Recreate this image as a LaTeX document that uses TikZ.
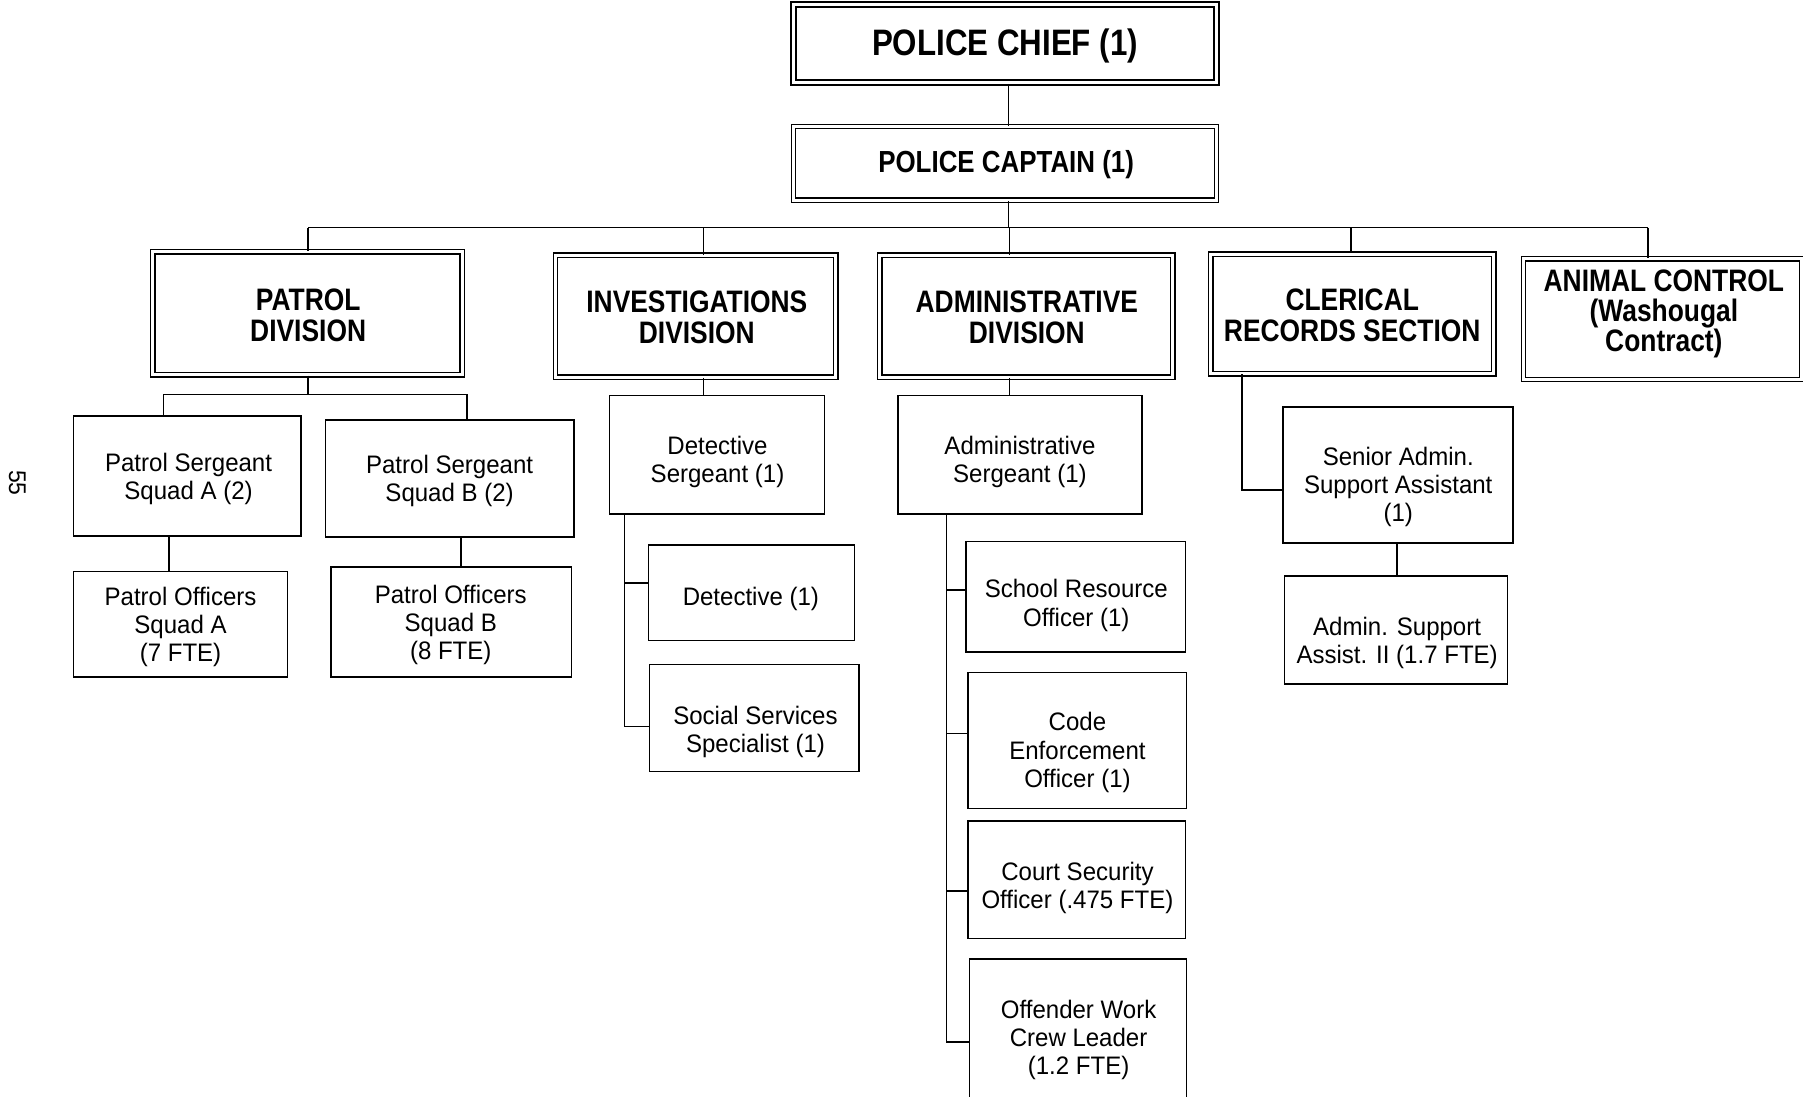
\documentclass[tikz,border=0pt]{standalone}
\usepackage{fontspec}
\setmainfont{Liberation Sans}
\newfontfamily\regfont[FakeStretch=0.95]{Liberation Sans}
\newfontfamily\hdfont[FakeStretch=0.85]{Liberation Sans}
\usetikzlibrary{fit}

\tikzset{
  plainbox/.style={draw, line width=1.4pt, inner sep=0pt},
  dblbox/.style={draw, line width=1.2pt, double, double distance=2.6pt, inner sep=0pt},
  chiefbox/.style={draw, line width=1.8pt, double, double distance=2.4pt, inner sep=0pt},
  link/.style={line width=1.3pt},
  txt/.style={align=center, inner sep=0pt, yshift=-2.5pt, font=\regfont\fontsize{22}{24.5}\selectfont},
  hd/.style={align=center, inner sep=0pt, font=\hdfont\bfseries\fontsize{27}{27}\selectfont},
  hdtop/.style={align=center, inner sep=0pt, font=\hdfont\bfseries\fontsize{32}{32}\selectfont},
  hdcap/.style={align=center, inner sep=0pt, font=\hdfont\bfseries\fontsize{26.5}{26.5}\selectfont},
}

\begin{document}
\begin{tikzpicture}[x=1pt, y=-1pt]
\useasboundingbox (0,0) rectangle (1568,954);
\fill[white] (0,0) rectangle (1568,954);
\clip (0,0) rectangle (1568,954);

% ---- command levels ----
\node[chiefbox, fit={(690,4) (1058,72)}] (chief) {};
\node[hdtop] (chief-t) at (874,40) {POLICE CHIEF (1)};
\node[dblbox, fit={(690,110) (1058,174)}] (captain) {};
\node[hdcap] (captain-t) at (875,143) {POLICE CAPTAIN (1)};

% ---- divisions ----
\node[dblbox, fit={(133,219) (402,326)}] (patrol) {};
\node[hd] (patrol-t) at (268,274) {PATROL\\DIVISION};
\node[dblbox, fit={(483,222) (727,328)}] (invest) {};
\node[hd] (invest-t) at (606,276) {INVESTIGATIONS\\DIVISION};
\node[dblbox, fit={(765,222) (1020,328)}] (admin) {};
\node[hd] (admin-t) at (893,276) {ADMINISTRATIVE\\DIVISION};
\node[dblbox, fit={(1053,221) (1299,325)}] (clerical) {};
\node[hd] (clerical-t) at (1176,274) {CLERICAL\\RECORDS SECTION};
\node[dblbox, fit={(1325,225) (1567,330)}] (animal) {};
\node[hd, font=\hdfont\bfseries\fontsize{27}{26}\selectfont] (animal-t) at (1447,273) {ANIMAL CONTROL\\(Washougal\\Contract)};

% ---- patrol units ----
\node[plainbox, fit={(64,362) (262,466)}] (psA) {};
\node[txt] (psA-t) at (164,414) {Patrol Sergeant\\Squad A (2)};
\node[plainbox, fit={(283,365) (499,467)}] (psB) {};
\node[txt] (psB-t) at (391,416) {Patrol Sergeant\\Squad B (2)};
\node[plainbox, fit={(64,497) (250,589)}] (poA) {};
\node[txt] (poA-t) at (157,543) {Patrol Officers\\Squad A\\(7 FTE)};
\node[plainbox, fit={(288,493) (497,589)}] (poB) {};
\node[txt] (poB-t) at (392,541) {Patrol Officers\\Squad B\\(8 FTE)};

% ---- investigations units ----
\node[plainbox, fit={(530,344) (717,447)}] (dsgt) {};
\node[txt] (dsgt-t) at (624,399) {Detective\\Sergeant (1)};
\node[plainbox, fit={(564,474) (743,557)}] (det) {};
\node[txt] (det-t) at (653,518) {Detective (1)};
\node[plainbox, fit={(565,578) (747,671)}] (ssp) {};
\node[txt] (ssp-t) at (657,634) {Social Services\\Specialist (1)};

% ---- administrative units ----
\node[plainbox, fit={(781,344) (993,447)}] (asgt) {};
\node[txt] (asgt-t) at (887,399) {Administrative\\Sergeant (1)};
\node[plainbox, fit={(840,471) (1031,567)}] (sro) {};
\node[txt] (sro-t) at (936,524) {School Resource\\Officer (1)};
\node[plainbox, fit={(842,585) (1032,703)}] (ceo) {};
\node[txt] (ceo-t) at (937,652) {Code\\Enforcement\\Officer (1)};
\node[plainbox, fit={(842,714) (1031,816)}] (cso) {};
\node[txt] (cso-t) at (937,770) {Court Security\\Officer (.475 FTE)};
\node[plainbox, fit={(843,834) (1032,958)}] (owc) {};
\node[txt] (owc-t) at (938,902) {Offender Work\\Crew Leader\\(1.2 FTE)};

% ---- clerical units ----
\node[plainbox, fit={(1116,354) (1316,472)}] (senior) {};
\node[txt] (senior-t) at (1216,421) {Senior Admin.\\Support Assistant\\(1)};
\node[plainbox, fit={(1117,501) (1311,595)}] (asst) {};
\node[txt] (asst-t) at (1215,557) {Admin. Support\\Assist. II (1.7 FTE)};

% page number
\node[font=\regfont\fontsize{21}{21}\selectfont, rotate=-90] (pg) at (15,420) {55};

% ---- connector points ----
\coordinate (trunk) at (877,198);
\coordinate (dPat) at (268,198);
\coordinate (dInv) at (612,198);
\coordinate (dAdm) at (878,198);
\coordinate (dCle) at (1175,198);
\coordinate (dAni) at (1433,198);
\coordinate (pJ) at (268,343);
\coordinate (pA) at (142,343);
\coordinate (pB) at (406,343);
\coordinate (xoA) at (147,0);
\coordinate (xoB) at (401,0);
\coordinate (xInv) at (612,0);
\coordinate (xDet) at (543,0);
\coordinate (yDet) at (0,507);
\coordinate (ySsp) at (0,632);
\coordinate (xAdm) at (878,0);
\coordinate (xAs) at (823,0);
\coordinate (ySro) at (0,513);
\coordinate (yCeo) at (0,638);
\coordinate (yCso) at (0,775);
\coordinate (yOwc) at (0,906);
\coordinate (cJ) at (1080,426);
\coordinate (xSn) at (1215,0);

% ---- connectors ----
\draw[link] (chief.south -| trunk) -- (captain.north -| trunk);
\draw[link] (captain.south -| trunk) -- (trunk);
\draw[link] (dPat) -- (dAni);
\draw[link] (dPat) -- (dPat |- patrol.north);
\draw[link] (dInv) -- (dInv |- invest.north);
\draw[link] (dAdm) -- (dAdm |- admin.north);
\draw[link] (dCle) -- (dCle |- clerical.north);
\draw[link] (dAni) -- (dAni |- animal.north);

\draw[link] (pJ |- patrol.south) -- (pJ);
\draw[link] (pA |- psA.north) -- (pA) -- (pB) -- (pB |- psB.north);
\draw[link] (xoA |- psA.south) -- (xoA |- poA.north);
\draw[link] (xoB |- psB.south) -- (xoB |- poB.north);

\draw[link] (xInv |- invest.south) -- (xInv |- dsgt.north);
\draw[link] (xDet |- dsgt.south) -- (xDet |- ySsp) -- (ySsp -| ssp.west);
\draw[link] (xDet |- yDet) -- (yDet -| det.west);

\draw[link] (xAdm |- admin.south) -- (xAdm |- asgt.north);
\draw[link] (xAs |- asgt.south) -- (xAs |- yOwc) -- (yOwc -| owc.west);
\draw[link] (xAs |- ySro) -- (ySro -| sro.west);
\draw[link] (xAs |- yCeo) -- (yCeo -| ceo.west);
\draw[link] (xAs |- yCso) -- (yCso -| cso.west);

\draw[link] (cJ |- clerical.south) -- (cJ) -- (cJ -| senior.west);
\draw[link] (xSn |- senior.south) -- (xSn |- asst.north);
\end{tikzpicture}
\end{document}
